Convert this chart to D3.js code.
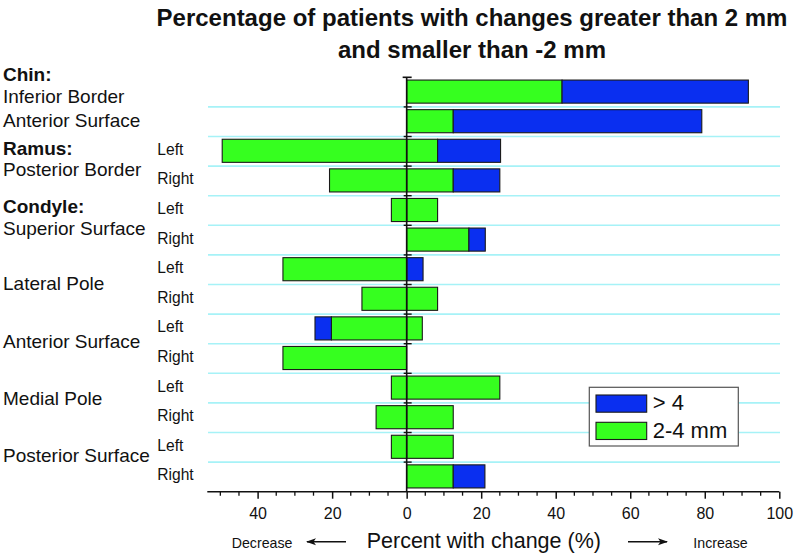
<!DOCTYPE html>
<html>
<head>
<meta charset="utf-8">
<script src="https://cdn.jsdelivr.net/npm/d3@7"></script>
<style>
  html, body { margin: 0; padding: 0; background: #fff; }
  svg { display: block; font-family: "Liberation Sans", Arial, sans-serif; }
</style>
</head>
<body>
<svg id="chart" width="800" height="556"></svg>
<script>
// ---------------- DATA ----------------
const rowKeys = ["chinInf","chinAnt","ramusL","ramusR","supL","supR","latL","latR","antL","antR","medL","medR","postL","postR"];
const sideLabels = ["", "", "Left", "Right", "Left", "Right", "Left", "Right", "Left", "Right", "Left", "Right", "Left", "Right"];
// positive (increase) side: 2-4 mm segment and >4 mm segment (percent)
const pos24 = [41.7, 12.5, 8.3, 12.5, 8.3, 16.7, 0, 8.3, 4.2, 0, 25.0, 12.5, 12.5, 12.5];
const posGt4 = [50.0, 66.7, 16.9, 12.5, 0, 4.4, 4.4, 0, 0, 0, 0, 0, 0, 8.5];
// negative (decrease) side: 2-4 mm segment and >4 mm segment (percent, magnitude)
const neg24 = [0, 0, 49.5, 20.7, 4.1, 0, 33.2, 12.0, 20.2, 33.2, 4.1, 8.2, 4.1, 0];
const negGt4 = [0, 0, 0, 0, 0, 0, 0, 0, 4.4, 0, 0, 0, 0, 0];
const xTickValues = [-40, -20, 0, 20, 40, 60, 80, 100];
const seriesNames = ["> 4", "2-4 mm"];
const titleLines = ["Percentage of patients with changes greater than 2 mm", "and smaller than -2 mm"];
const axisTitle = "Percent with change (%)";
const groupLabels = [
  {text: "Chin:", bold: true},
  {text: "Inferior Border", bold: false},
  {text: "Anterior Surface", bold: false},
  {text: "Ramus:", bold: true},
  {text: "Posterior Border", bold: false},
  {text: "Condyle:", bold: true},
  {text: "Superior Surface", bold: false},
  {text: "Lateral Pole", bold: false},
  {text: "Anterior Surface", bold: false},
  {text: "Medial Pole", bold: false},
  {text: "Posterior Surface", bold: false}
];
// ---------------- LAYOUT ----------------
const groupLabelRowPos = [0.115, 0.877, 1.667, 2.62, 3.35, 4.59, 5.32, 7.18, 9.146, 11.06, 12.99];
const GREEN = "#36ff1f", BLUE = "#0a2ff0", GRID = "#a6f2f7";

const svg = d3.select("#chart");
const plotTop = 77.3, plotBottom = 491.7;
const x = d3.scaleLinear().domain([-53.5, 100]).range([207.3, 779.3]);
const y = d3.scaleBand().domain(rowKeys).range([plotTop, plotBottom]).paddingInner(0.22).paddingOuter(0.11);
const rowUnit = d3.scaleLinear().domain([0, rowKeys.length]).range([plotTop, plotBottom]);

// grid lines at row boundaries
const boundaries = d3.range(1, rowKeys.length);
svg.append("g").selectAll("line").data(boundaries).join("line")
  .attr("x1", 208).attr("x2", 780)
  .attr("y1", d => rowUnit(d)).attr("y2", d => rowUnit(d))
  .attr("stroke", GRID).attr("stroke-width", 1.6);

// build segments
const segs = [];
rowKeys.forEach((k, i) => {
  if (pos24[i] > 0) segs.push({k, x0: 0, x1: pos24[i], c: GREEN});
  if (posGt4[i] > 0) segs.push({k, x0: pos24[i], x1: pos24[i] + posGt4[i], c: BLUE});
  if (neg24[i] > 0) segs.push({k, x0: -neg24[i], x1: 0, c: GREEN});
  if (negGt4[i] > 0) segs.push({k, x0: -neg24[i] - negGt4[i], x1: -neg24[i], c: BLUE});
});
svg.append("g").selectAll("rect").data(segs).join("rect")
  .attr("x", d => x(d.x0)).attr("width", d => x(d.x1) - x(d.x0))
  .attr("y", d => y(d.k) - 0.5).attr("height", y.bandwidth())
  .attr("fill", d => d.c).attr("stroke", "#1a1a1a").attr("stroke-width", 1.1);

// vertical zero axis
const zx = x(0);
svg.append("line").attr("x1", zx).attr("x2", zx).attr("y1", plotTop).attr("y2", plotBottom)
  .attr("stroke", "#111").attr("stroke-width", 1.6);
svg.append("line").attr("x1", zx - 4).attr("x2", zx + 5).attr("y1", plotTop).attr("y2", plotTop)
  .attr("stroke", "#111").attr("stroke-width", 1.6);
svg.append("g").selectAll("line").data(boundaries).join("line")
  .attr("x1", zx - 3).attr("x2", zx + 5)
  .attr("y1", d => rowUnit(d)).attr("y2", d => rowUnit(d))
  .attr("stroke", "#111").attr("stroke-width", 1.4);

// bottom x axis
const xAxis = d3.axisBottom(x).tickValues(xTickValues).tickFormat(d => Math.abs(d)).tickSizeOuter(0).tickSize(7);
const ax = svg.append("g").attr("transform", `translate(0,${plotBottom})`).call(xAxis);
ax.select(".domain").attr("stroke", "#111").attr("stroke-width", 1.6).attr("d", `M${x(-53.5)},0H${x(100)}`);
ax.selectAll(".tick line").attr("stroke", "#111").attr("stroke-width", 1.5);
ax.selectAll(".tick text").attr("font-size", 16).attr("fill", "#111").attr("dy", 0).attr("y", 27.6)
  .attr("font-family", "Liberation Sans, Arial, sans-serif");
const minorTicks = d3.range(-50, 101, 5).filter(v => !xTickValues.includes(v));
ax.append("g").selectAll("line").data(minorTicks).join("line")
  .attr("x1", d => x(d)).attr("x2", d => x(d)).attr("y1", 0).attr("y2", 4)
  .attr("stroke", "#111").attr("stroke-width", 1.3);

// side labels
svg.append("g").selectAll("text").data(rowKeys).join("text")
  .attr("x", 157.3).attr("y", d => y(d) + y.bandwidth() / 2 + 3.5)
  .attr("font-size", 15.6).attr("fill", "#111")
  .text((d, i) => sideLabels[i]);

// group labels
svg.append("g").selectAll("text").data(groupLabels).join("text")
  .attr("x", 3).attr("y", (d, i) => rowUnit(groupLabelRowPos[i]))
  .attr("font-size", 19).attr("font-weight", d => d.bold ? "bold" : "normal").attr("fill", "#111")
  .text(d => d.text);

// title
svg.append("g").selectAll("text").data(titleLines).join("text")
  .attr("x", 472).attr("y", (d, i) => 25.8 + i * 32.5)
  .attr("text-anchor", "middle").attr("font-size", 24).attr("font-weight", "bold").attr("fill", "#111")
  .text(d => d);

// axis title and direction hints
svg.append("text").attr("x", 366.7).attr("y", 548.3).attr("font-size", 21.5).attr("fill", "#111").text(axisTitle);
svg.append("text").attr("x", 231.7).attr("y", 547.7).attr("font-size", 14.2).attr("fill", "#111").text("Decrease");
svg.append("text").attr("x", 693.3).attr("y", 547.7).attr("font-size", 14.2).attr("fill", "#111").text("Increase");
const defs = svg.append("defs");
defs.append("marker").attr("id", "ah").attr("viewBox", "0 0 10 10").attr("refX", 9).attr("refY", 5)
  .attr("markerWidth", 11).attr("markerHeight", 10).attr("markerUnits", "userSpaceOnUse").attr("orient", "auto")
  .append("path").attr("d", "M0,1.5L10,5L0,8.5L2.5,5Z").attr("fill", "#111");
svg.append("line").attr("x1", 346).attr("x2", 307).attr("y1", 541.7).attr("y2", 541.7)
  .attr("stroke", "#111").attr("stroke-width", 1.4).attr("marker-end", "url(#ah)");
svg.append("line").attr("x1", 628).attr("x2", 667).attr("y1", 541.7).attr("y2", 541.7)
  .attr("stroke", "#111").attr("stroke-width", 1.4).attr("marker-end", "url(#ah)");

// legend
const lg = svg.append("g").attr("transform", "translate(589.3,387.3)");
lg.append("rect").attr("width", 149).attr("height", 58.7).attr("fill", "#fff").attr("stroke", "#555").attr("stroke-width", 1.2);
const legendColors = [BLUE, GREEN];
seriesNames.forEach((n, i) => {
  lg.append("rect").attr("x", 6.7).attr("y", 7.7 + i * 27.3).attr("width", 50.7).attr("height", 17.2)
    .attr("fill", legendColors[i]).attr("stroke", "#1a1a1a").attr("stroke-width", 1.1);
  lg.append("text").attr("x", 63.4).attr("y", 22.7 + i * 28.3).attr("font-size", 22).attr("fill", "#111").text(n);
});
</script>
</body>
</html>
